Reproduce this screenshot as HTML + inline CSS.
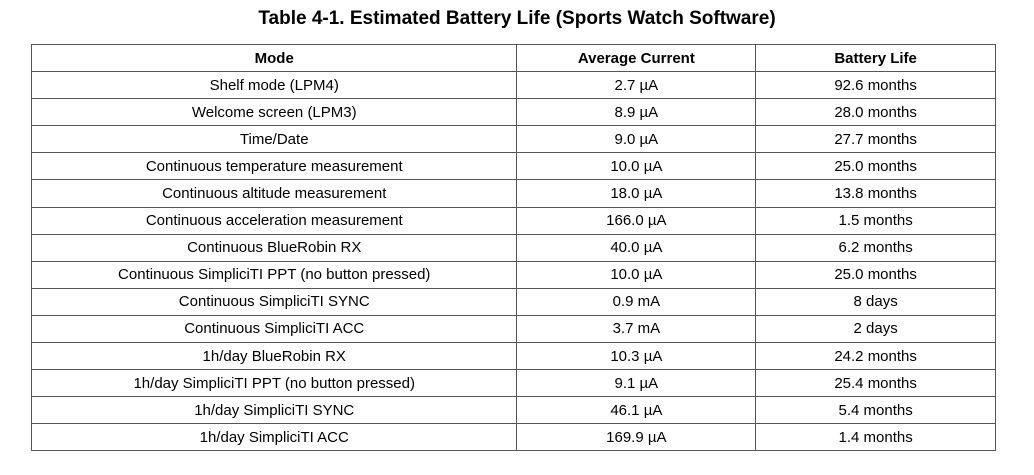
<!DOCTYPE html>
<html><head><meta charset="utf-8"><style>
body{margin:0;width:1034px;height:475px;background:#fff;font-family:"Liberation Sans",Arial,sans-serif;color:#000;position:relative;overflow:hidden}
h1{position:absolute;left:0;width:1034px;top:8px;margin:0;text-align:center;font-size:19px;font-weight:bold}
table{position:absolute;left:31px;top:44px;width:965px;border-collapse:collapse;font-size:15px}
td,th{border:1px solid #555;height:26.1px;padding:0;text-align:center}
th{font-weight:bold}
table{border-left:1px solid #999}
</style></head><body>
<h1>Table 4-1. Estimated Battery Life (Sports Watch Software)</h1>
<table>
<colgroup><col style="width:486px"><col style="width:239px"><col style="width:240px"></colgroup>
<tr><th>Mode</th><th>Average Current</th><th>Battery Life</th></tr>
<tr><td>Shelf mode (LPM4)</td><td>2.7 µA</td><td>92.6 months</td></tr>
<tr><td>Welcome screen (LPM3)</td><td>8.9 µA</td><td>28.0 months</td></tr>
<tr><td>Time/Date</td><td>9.0 µA</td><td>27.7 months</td></tr>
<tr><td>Continuous temperature measurement</td><td>10.0 µA</td><td>25.0 months</td></tr>
<tr><td>Continuous altitude measurement</td><td>18.0 µA</td><td>13.8 months</td></tr>
<tr><td>Continuous acceleration measurement</td><td>166.0 µA</td><td>1.5 months</td></tr>
<tr><td>Continuous BlueRobin RX</td><td>40.0 µA</td><td>6.2 months</td></tr>
<tr><td>Continuous SimpliciTI PPT (no button pressed)</td><td>10.0 µA</td><td>25.0 months</td></tr>
<tr><td>Continuous SimpliciTI SYNC</td><td>0.9 mA</td><td>8 days</td></tr>
<tr><td>Continuous SimpliciTI ACC</td><td>3.7 mA</td><td>2 days</td></tr>
<tr><td>1h/day BlueRobin RX</td><td>10.3 µA</td><td>24.2 months</td></tr>
<tr><td>1h/day SimpliciTI PPT (no button pressed)</td><td>9.1 µA</td><td>25.4 months</td></tr>
<tr><td>1h/day SimpliciTI SYNC</td><td>46.1 µA</td><td>5.4 months</td></tr>
<tr><td>1h/day SimpliciTI ACC</td><td>169.9 µA</td><td>1.4 months</td></tr>
</table>
</body></html>
